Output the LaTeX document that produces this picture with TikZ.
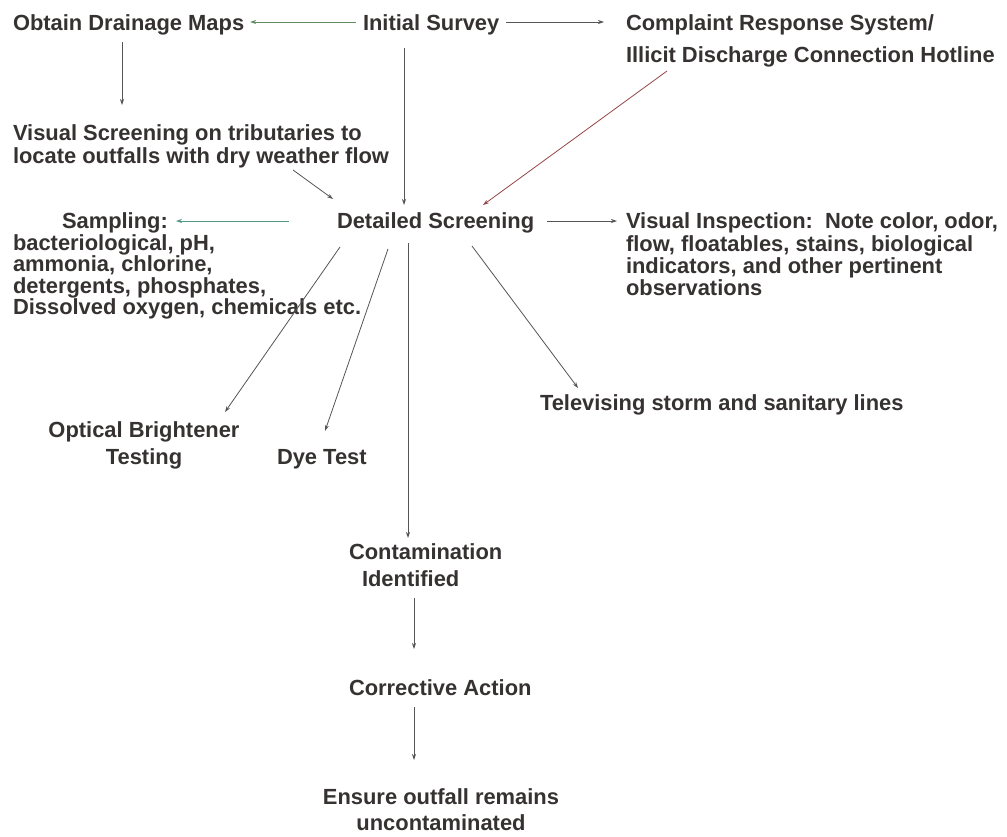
\documentclass[tikz,border=0pt]{standalone}
\usepackage{fontspec}
\setmainfont{Liberation Sans}
\usetikzlibrary{arrows.meta,calc}
\definecolor{txt}{RGB}{55,50,50}
\definecolor{ln}{RGB}{85,85,85}
\definecolor{lgreen}{RGB}{100,140,100}
\definecolor{lred}{RGB}{150,70,70}
\definecolor{lteal}{RGB}{80,150,130}
\tikzset{
  lbl/.style={inner sep=0pt, outer sep=0pt, text=txt,
    font=\bfseries\fontsize{21.9}{#1}\selectfont, align=left, anchor=north west},
  lbl/.default=22,
  arr/.style={draw=ln, line width=0.8pt, -{Stealth[length=6pt,width=4pt]}}
}
\begin{document}
\begin{tikzpicture}[x=1pt,y=-1pt]
\fill[white] (0,0) rectangle (1007,836);
\useasboundingbox (0,0) rectangle (1007,836);

\node[lbl] (obtain) at (13,15) {Obtain Drainage Maps};
\node[lbl] (init) at (363,15) {Initial Survey};
\node[lbl=32] (compl) at (626,15) {Complaint Response System/\\Illicit Discharge Connection Hotline};
\node[lbl=23] (vscr) at (13,125) {Visual Screening on tributaries to\\locate outfalls with dry weather flow};
\node[lbl] (ds) at (337,213) {Detailed Screening};
\node[lbl=21.5] (samp) at (13,213) {\hspace*{49pt}Sampling:\\bacteriological, pH,\\ammonia, chlorine,\\detergents, phosphates,\\Dissolved oxygen, chemicals etc.};
\node[lbl=22.3] (vi) at (626,213) {Visual Inspection:\ \ Note color, odor,\\flow, floatables, stains, biological\\indicators, and other pertinent\\observations};
\node[lbl] (tv) at (540,395) {Televising storm and sanitary lines};
\node[lbl=27, align=center, anchor=north] (opt) at (144,422) {Optical Brightener\\Testing};
\node[lbl] (dye) at (277,449) {Dye Test};
\node[lbl=27] (cont) at (349,544) {Contamination\\\hspace*{13pt}Identified};
\node[lbl] (corr) at (349,680) {Corrective Action};
\node[lbl=26, align=center, anchor=north] (ens) at (441,789) {Ensure outfall remains\\uncontaminated};

\draw[arr, draw=lgreen] ($(init.north west)+(-7,7)$) -- ($(obtain.north east)+(6,7)$);
\draw[arr] ($(init.north east)+(7,7)$) -- ($(compl.north west)+(-22,7)$);
\draw[arr] ($(obtain.north west)+(109,27)$) -- ($(vscr.north west)+(109,-20)$);
\draw[arr] ($(init.north west)+(41,33)$) -- ($(ds.north west)+(67,-8)$);
\draw[arr] ($(vscr.north west)+(280,45)$) -- ($(ds.north west)+(-4,-14)$);
\draw[arr, draw=lred] ($(compl.north west)+(41,56)$) -- ($(ds.north west)+(146,-8)$);
\draw[arr, draw=lteal] ($(ds.north west)+(-48,8)$) -- ($(samp.north west)+(163,8)$);
\draw[arr] ($(ds.north east)+(13,8)$) -- ($(vi.north west)+(-9,8)$);
\draw[arr] ($(ds.north west)+(3,34)$) -- ($(opt.north)+(81,-10)$);
\draw[arr] ($(ds.north west)+(51,36)$) -- ($(dye.north west)+(48,-18)$);
\draw[arr] ($(ds.north west)+(71,30)$) -- ($(cont.north west)+(59,-6)$);
\draw[arr] ($(ds.north west)+(135,33)$) -- ($(tv.north west)+(38,-7)$);
\draw[arr] ($(cont.north west)+(65,54)$) -- ($(corr.north west)+(65,-31)$);
\draw[arr] ($(corr.north west)+(65,27)$) -- ($(ens.north)+(-27,-29)$);
\end{tikzpicture}
\end{document}
